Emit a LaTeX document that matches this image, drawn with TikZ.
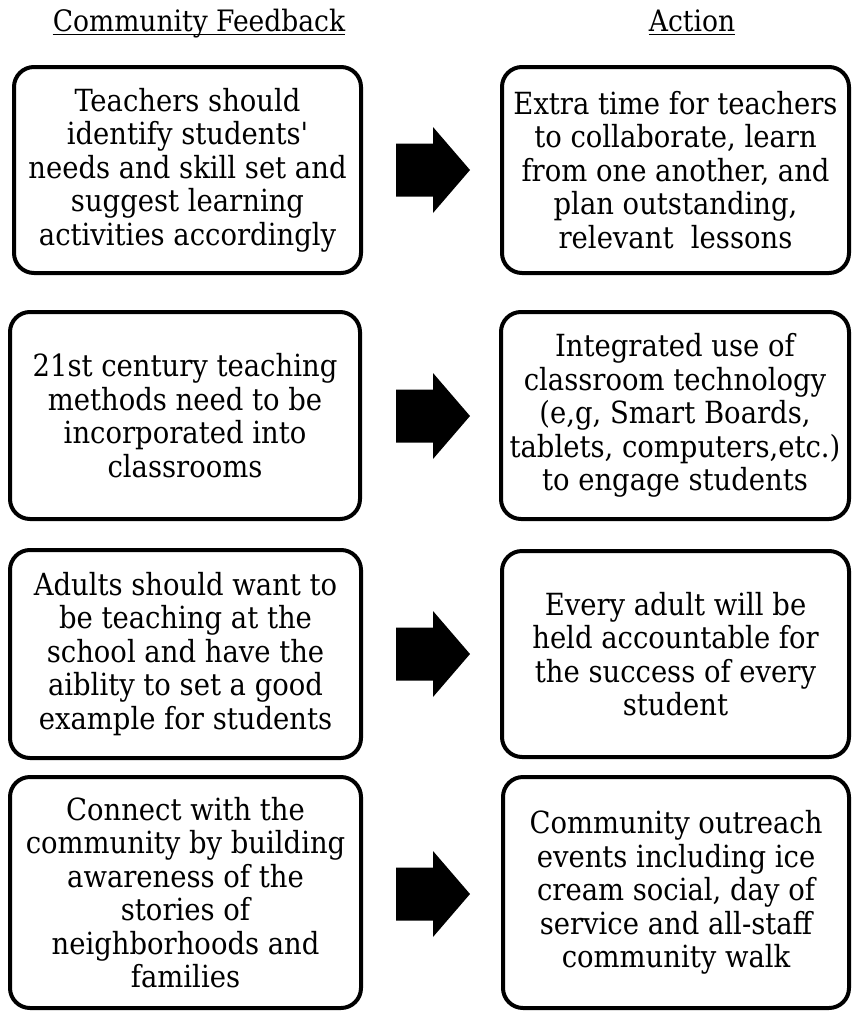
\documentclass[tikz,border=0pt]{standalone}
\usepackage{fontspec}
\setmainfont{DejaVu Serif Condensed}
\begin{document}
\begin{tikzpicture}[x=1pt,y=-1pt,
  box/.style={draw=black, line width=4pt, rounded corners=20pt, align=center,
    inner sep=0pt, font=\fontsize{30.5}{33.5}\selectfont},
  head/.style={inner sep=0pt, anchor=base, font=\fontsize{29.5}{33.5}\selectfont},
  blockarrow/.style={fill=black, draw=none}]
\useasboundingbox (0,0) rectangle (853,1015);
% headers
\node[head] (h1) at (199,31) {Community Feedback};
\node[head] (h2) at (692,31) {Action};
\draw[line width=1.5pt] ([yshift=-3.5pt]h1.base west) -- ([yshift=-3.5pt]h1.base east);
\draw[line width=1.5pt] ([yshift=-3.5pt]h2.base west) -- ([yshift=-3.5pt]h2.base east);
% left boxes
\node[box, minimum width=347pt, minimum height=206pt] (l1) at (187.5,170)
  {Teachers should\\identify students\textquotesingle\\needs and skill set and\\suggest learning\\activities accordingly};
\node[box, minimum width=350pt, minimum height=207pt] (l2) at (185,415.5)
  {21st century teaching\\methods need to be\\incorporated into\\classrooms};
\node[box, minimum width=351pt, minimum height=208pt] (l3) at (185.5,654)
  {Adults should want to\\be teaching at the\\school and have the\\aiblity to set a good\\example for students};
\node[box, minimum width=351pt, minimum height=231pt] (l4) at (185.5,892.5)
  {Connect with the\\community by building\\awareness of the\\stories of\\neighborhoods and\\families};
% right boxes
\node[box, minimum width=347pt, minimum height=206pt] (r1) at (675.5,170)
  {Extra time for teachers\\to collaborate, learn\\from one another, and\\plan outstanding,\\relevant\ \ lessons};
\node[box, minimum width=348pt, minimum height=207pt] (r2) at (675,415.5)
  {Integrated use of\\classroom technology\\(e,g, Smart Boards,\\tablets, computers,etc.)\\to engage students};
\node[box, minimum width=347pt, minimum height=206pt] (r3) at (675.5,654)
  {Every adult will be\\held accountable for\\the success of every\\student};
\node[box, minimum width=346pt, minimum height=231pt] (r4) at (676,892.5)
  {Community outreach\\events including ice\\cream social, day of\\service and all-staff\\community walk};
% block arrows
\foreach \c/\n in {170/a1,416/a2,654/a3,894/a4}{
  \coordinate (\n) at (396,\c);
  \fill[blockarrow] (\n) ++(0,-26.5) -- ++(37,0) -- ++(0,-16.5) -- ++(37,43) -- ++(-37,43) -- ++(0,-16.5) -- ++(-37,0) -- cycle;
}
\end{tikzpicture}
\end{document}
